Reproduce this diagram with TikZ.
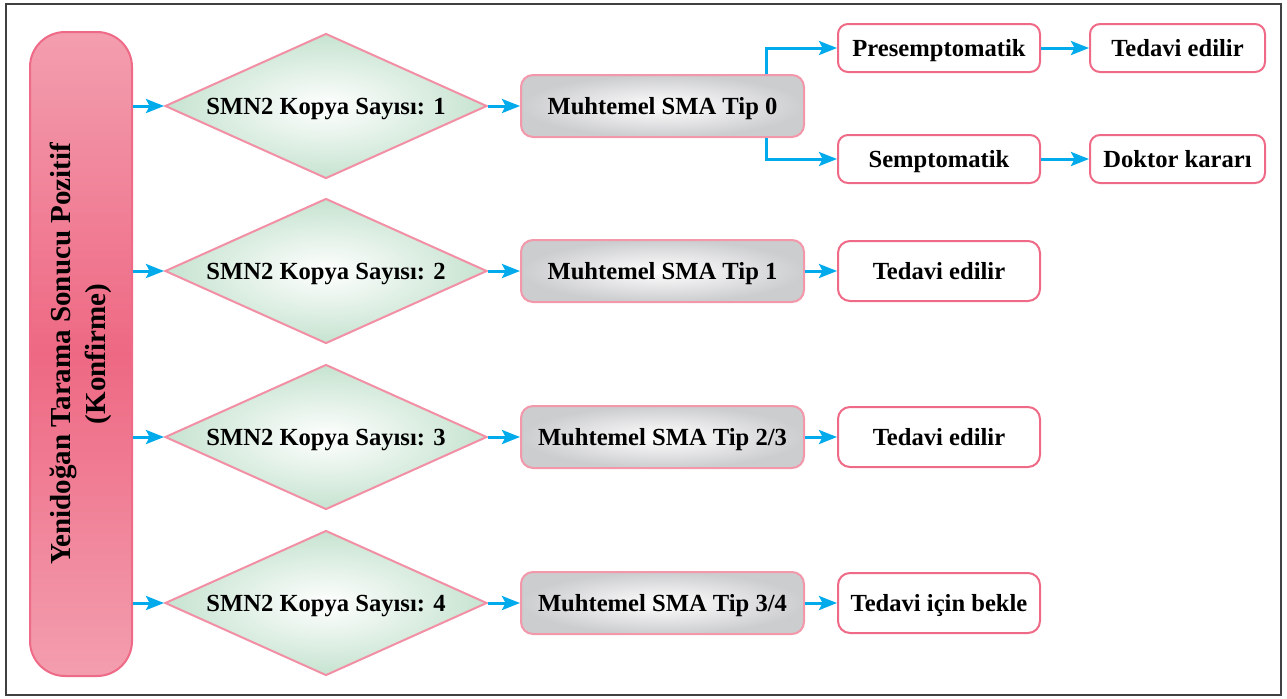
\documentclass[tikz,border=0pt]{standalone}
\usepackage{fontspec}
\setmainfont{Liberation Serif}
\usetikzlibrary{shapes.geometric,arrows.meta}
\definecolor{kenar}{RGB}{238,106,134}
\definecolor{okmavi}{RGB}{0,170,235}
\definecolor{yesil}{RGB}{198,227,208}
\definecolor{gri}{RGB}{204,205,207}
\definecolor{pembeacik}{RGB}{243,158,175}
\definecolor{pembekoyu}{RGB}{238,104,131}
\tikzset{
  serit/.style={rectangle, rounded corners=17.5pt, draw=kenar, line width=1pt,
    minimum width=322pt, minimum height=51pt, rotate=90, align=center,
    top color=pembeacik, bottom color=pembeacik, middle color=pembekoyu,
    font=\bfseries\fontsize{14.5}{17.5}\selectfont},
  kopya/.style={diamond, aspect=2.2, minimum width=161pt, minimum height=72.5pt,
    inner sep=0pt, text depth=0pt, draw=kenar!75, line width=1pt, inner color=white,
    outer color=yesil, font=\bfseries\fontsize{12.3}{14}\selectfont},
  tipkutu/.style={rectangle, rounded corners=6pt, minimum width=141.5pt, minimum height=31pt,
    text depth=0pt, draw=kenar!70, line width=1pt, inner color=white, outer color=gri,
    font=\bfseries\fontsize{12.3}{14}\selectfont},
  sonuc/.style={rectangle, rounded corners=6pt, minimum width=101pt, minimum height=30pt,
    text depth=0pt, draw=kenar, line width=1pt, fill=white,
    font=\bfseries\fontsize{12.3}{14}\selectfont},
  okcizgi/.style={draw=okmavi, line width=1.5pt, -{Stealth[length=9pt,width=7pt,inset=1.8pt]}}
}
\begin{document}
\begin{tikzpicture}[x=0.5pt,y=-0.5pt]
  \useasboundingbox (0,0) rectangle (1287,698);
  \draw[black!75, line width=0.6pt] (6,4) rectangle (1281,695);

  \node[serit] (bar) at (81,354) {Yenidoğan Tarama Sonucu Pozitif\\(Konfirme)};

  \node[kopya] (k1) at (326,106) {SMN2 Kopya Sayısı: 1};
  \node[kopya] (k2) at (326,271) {SMN2 Kopya Sayısı: 2};
  \node[kopya] (k3) at (326,437) {SMN2 Kopya Sayısı: 3};
  \node[kopya] (k4) at (326,603) {SMN2 Kopya Sayısı: 4};

  \node[tipkutu] (t1) at (662.5,106) {Muhtemel SMA Tip 0};
  \node[tipkutu] (t2) at (662.5,271) {Muhtemel SMA Tip 1};
  \node[tipkutu] (t3) at (662.5,437) {Muhtemel SMA Tip 2/3};
  \node[tipkutu] (t4) at (662.5,603) {Muhtemel SMA Tip 3/4};

  \node[sonuc, minimum height=24pt, rounded corners=5pt] (pre) at (939,48) {Presemptomatik};
  \node[sonuc, minimum height=24pt, rounded corners=5pt] (sem) at (939,159) {Semptomatik};
  \node[sonuc, minimum height=24pt, minimum width=87.5pt, rounded corners=5pt] (pre2) at (1177.5,48) {Tedavi edilir};
  \node[sonuc, minimum height=24pt, minimum width=87.5pt, rounded corners=5pt] (sem2) at (1177.5,159) {Doktor kararı};
  \node[sonuc] (s2) at (939,271) {Tedavi edilir};
  \node[sonuc] (s3) at (939,437) {Tedavi edilir};
  \node[sonuc] (s4) at (939,603) {Tedavi için bekle};

  \begin{scope}[okcizgi]
    \draw (bar.south |- k1) -- (k1.west);
    \draw (bar.south |- k2) -- (k2.west);
    \draw (bar.south |- k3) -- (k3.west);
    \draw (bar.south |- k4) -- (k4.west);
    \draw (k1.east) -- (t1.west);
    \draw (k2.east) -- (t2.west);
    \draw (k3.east) -- (t3.west);
    \draw (k4.east) -- (t4.west);
    \draw ([xshift=-19.5pt]t1.north east) |- (pre.west);
    \draw ([xshift=-19.5pt]t1.south east) |- (sem.west);
    \draw (pre.east) -- (pre2.west);
    \draw (sem.east) -- (sem2.west);
    \draw (t2.east) -- (s2.west);
    \draw (t3.east) -- (s3.west);
    \draw (t4.east) -- (s4.west);
  \end{scope}
\end{tikzpicture}
\end{document}
